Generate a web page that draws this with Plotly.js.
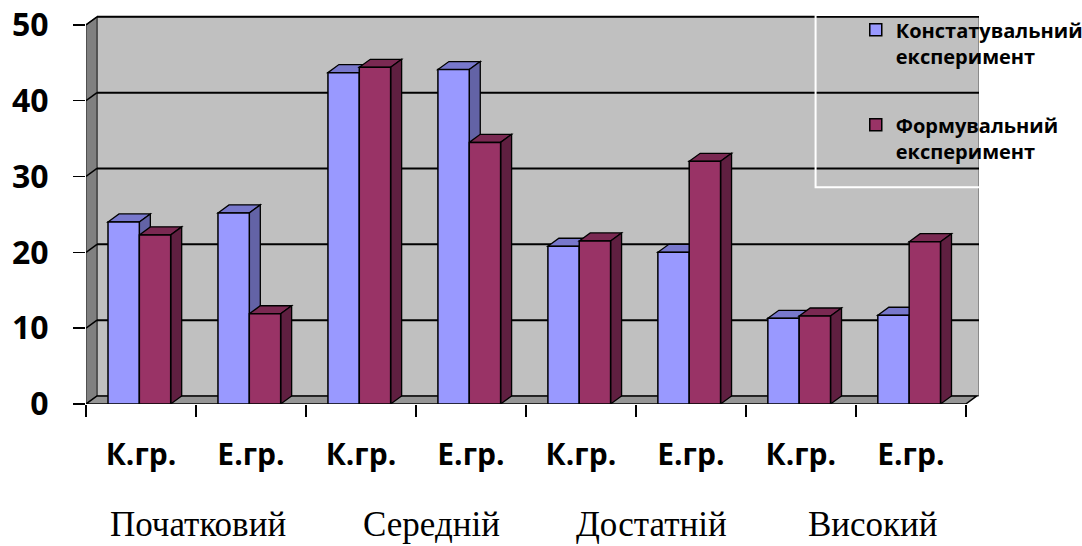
<!DOCTYPE html>
<html>
<head>
<meta charset="utf-8">
<script src="https://cdn.plot.ly/plotly-3.0.1.min.js"></script>
<style>html,body{margin:0;padding:0;background:#fff;}#chart{width:1082px;height:546px;}</style>
</head>
<body>
<div id="chart"></div>
<script>
// ---- data ----
const categories = ['К.гр.', 'Е.гр.', 'К.гр.', 'Е.гр.', 'К.гр.', 'Е.гр.', 'К.гр.', 'Е.гр.'];
const groupLabels = ['Початковий', 'Середній', 'Достатній', 'Високий'];
const seriesNames = ['Констатувальний<br>експеримент', 'Формувальний<br>експеримент'];
const constatValues = [24.0, 25.2, 43.7, 44.1, 20.8, 20.0, 11.3, 11.7];
const formValues = [22.3, 11.9, 44.4, 34.5, 21.5, 32.0, 11.6, 21.4];
const yTicks = [0, 10, 20, 30, 40, 50];

// ---- styling / geometry ----
const DX = 0.1;   // depth offset in category units
const DY = 1.06;  // depth offset in value units
const BW = 0.285;
const xs = categories.map((_, i) => i);
const series = [
  {vals: constatValues, off: -0.3, front: '#9999ff', top: '#7878cc', side: '#6363a6'},
  {vals: formValues, off: -0.015, front: '#993366', top: '#7a2952', side: '#5f1f40'}
];

const shapes = [];
const xmin = -0.5, xmax = categories.length - 0.5;
const ymax = yTicks[yTicks.length - 1];
// back wall
shapes.push({type: 'rect', xref: 'x', yref: 'y', x0: xmin + DX, x1: xmax + 0.12, y0: DY, y1: ymax + DY,
  fillcolor: '#c0c0c0', line: {color: '#555', width: 1}, layer: 'below'});
// left wall
shapes.push({type: 'path', xref: 'x', yref: 'y',
  path: `M${xmin},0 L${xmin + DX},${DY} L${xmin + DX},${ymax + DY} L${xmin},${ymax} Z`,
  fillcolor: '#808080', line: {color: '#333', width: 1.2}, layer: 'below'});
// floor
shapes.push({type: 'path', xref: 'x', yref: 'y',
  path: `M${xmin},0 L${xmax},0 L${xmax + DX},${DY} L${xmin + DX},${DY} Z`,
  fillcolor: '#959595', line: {color: '#000', width: 1.5}, layer: 'below'});
// gridlines on back wall + left wall diagonals
yTicks.forEach(t => {
  if (t > 0) {
    shapes.push({type: 'line', xref: 'x', yref: 'y', x0: xmin + DX, x1: xmax + 0.12, y0: t + DY, y1: t + DY,
      line: {color: '#000', width: 2}, layer: 'below'});
    shapes.push({type: 'line', xref: 'x', yref: 'y', x0: xmin, x1: xmin + DX, y0: t, y1: t + DY,
      line: {color: '#000', width: 1.5}, layer: 'below'});
  }
});
// 3D top & side faces of the bars
series.forEach(s => {
  s.vals.forEach((v, i) => {
    const x0 = xs[i] + s.off, x1 = x0 + BW;
    shapes.push({type: 'path', xref: 'x', yref: 'y',
      path: `M${x0},${v} L${x0 + DX},${v + DY} L${x1 + DX},${v + DY} L${x1},${v} Z`,
      fillcolor: s.top, line: {color: '#000', width: 1.3}, layer: 'below'});
    shapes.push({type: 'path', xref: 'x', yref: 'y',
      path: `M${x1},0 L${x1 + DX},${DY} L${x1 + DX},${v + DY} L${x1},${v} Z`,
      fillcolor: s.side, line: {color: '#000', width: 1.3}, layer: 'below'});
  });
});
// legend frame (white)
shapes.push({type: 'rect', xref: 'paper', yref: 'paper', x0: 0.817, x1: 1.2, y0: 0.557, y1: 1.0,
  fillcolor: 'rgba(0,0,0,0)', line: {color: '#fff', width: 2}, layer: 'above'});

const traces = series.map((s, k) => ({
  type: 'bar', x: xs, y: s.vals, name: seriesNames[k], legendgroup: 'g' + k,
  width: BW, offset: s.off,
  marker: {color: s.front, line: {color: '#000', width: 1.5}},
  hoverinfo: 'y'
}));

const groupPos = [0.52, 2.64, 4.64, 6.66];
const annotations = groupLabels.map((g, i) => ({
  text: g, xref: 'x', yref: 'paper', x: groupPos[i], y: 0, yanchor: 'bottom', yshift: -141,
  borderpad: 0,
  showarrow: false, font: {family: '"Liberation Serif", "Times New Roman", serif', size: 35, color: '#000'}
}));

const layout = {
  width: 1082, height: 546,
  margin: {l: 86, r: 103, t: 15, b: 142, autoexpand: false},
  paper_bgcolor: '#fff', plot_bgcolor: '#fff',
  showlegend: true,
  legend: {x: 0.862, y: 1.012, xanchor: 'left', yanchor: 'top', bgcolor: 'rgba(0,0,0,0)', valign: 'top',
    tracegroupgap: 40, font: {family: '"Open Sans", sans-serif', size: 20, color: '#000', weight: 'bold'}},
  barmode: 'overlay',
  xaxis: {range: [xmin, 7.62], tickmode: 'array', tickvals: xs, ticktext: categories,
    ticks: 'outside', ticklen: 0, showgrid: false, zeroline: false, showline: false,
    ticklabelstandoff: 24,
    tickfont: {family: '"Open Sans", sans-serif', size: 30, color: '#000', weight: 'bold'},
    minor: {tickmode: 'linear', tick0: -0.5, dtick: 1, ticks: 'outside', ticklen: 12, tickwidth: 1.5, tickcolor: '#000', showgrid: false}},
  yaxis: {range: [0, 51.3], tickmode: 'array', tickvals: yTicks, ticks: 'outside', ticklen: 12,
    tickwidth: 1.5, tickcolor: '#000', showgrid: false, zeroline: false, showline: false,
    ticklabelstandoff: 18,
    tickfont: {family: '"Open Sans", sans-serif', size: 32, color: '#000', weight: 'bold'}},
  shapes: shapes,
  annotations: annotations
};

Plotly.newPlot('chart', traces, layout, {displayModeBar: false, staticPlot: true});
</script>
</body>
</html>
